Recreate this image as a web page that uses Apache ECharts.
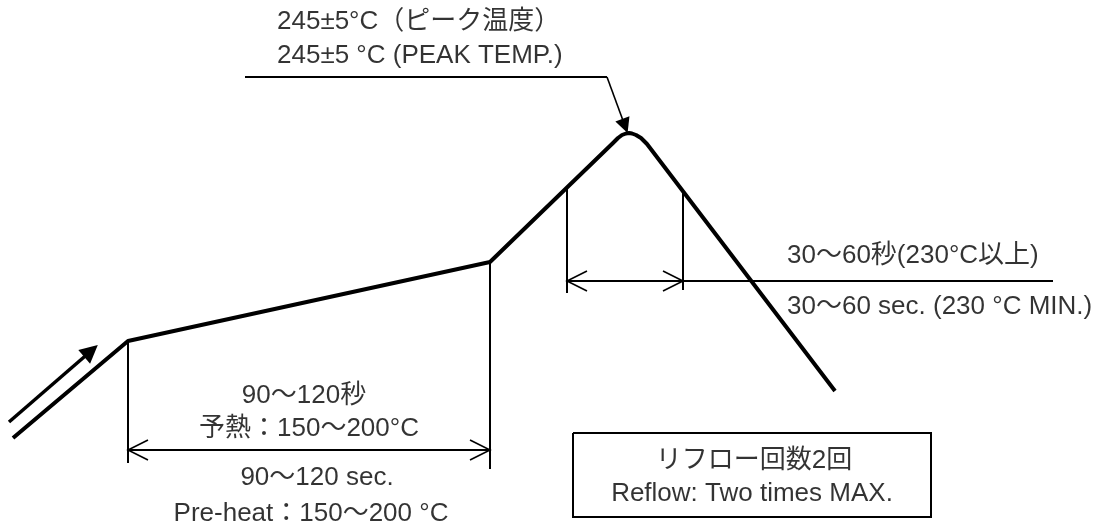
<!DOCTYPE html>
<html><head><meta charset="utf-8">
<script src="https://cdn.jsdelivr.net/npm/echarts@6/dist/echarts.min.js"></script>
<style>html,body{margin:0;padding:0;background:#fff}#c{width:1109px;height:532px}</style>
</head><body><div id="c"></div>
<script>
// Diagram units (time-like x, temperature-like y, drawn not to scale)
const profileX = [13, 128, 490, 613, 618, 622, 626, 629, 632, 636, 641, 647, 835];
const profileY = [438, 341, 262, 143, 138, 135, 133.5, 133, 133.5, 135, 138, 144, 391];
const inflowArrow = [[9, 422], [91, 351]];
const peakLeaderFlat = [[245, 77], [607, 77]];
const peakLeaderArrow = [[607, 77], [625, 126]];
const guideLines = [
  [[128, 343], [128, 463]],
  [[490, 262], [490, 469]],
  [[567, 189], [567, 293]],
  [[683, 192], [683, 290]]
];
const dimLines = [
  [[128, 450], [490, 450]],
  [[567, 281], [1053, 281]]
];
// open arrowheads: [tipX, tipY, direction]
const arrowTips = [[128, 450, 1], [490, 450, -1], [567, 281, 1], [683, 281, -1]];
const boxX = [573, 931];
const boxY = [433, 517];
const textsLeft = [
  [277, 22, '245±5°C（ピーク温度）'],
  [277, 56, '245±5 °C (PEAK TEMP.)'],
  [787, 256, '30～60秒(230°C以上)'],
  [787, 307, '30～60 sec. (230 °C MIN.)']
];
const textsCenter = [
  [304, 396, '90～120秒'],
  [309, 429, '予熱：150～200°C'],
  [317, 478, '90～120 sec.'],
  [311, 514, 'Pre-heat：150～200 °C'],
  [754, 461, 'リフロー回数2回'],
  [752, 494, 'Reflow: Two times MAX.']
];

const headSegs = [];
arrowTips.forEach(([x, y, d]) => {
  headSegs.push({coords: [[x + d * 20, y - 10], [x, y], [x + d * 20, y + 10]]});
});
const FONT = "'Liberation Sans', Arial, 'Noto Sans CJK JP', sans-serif";
const chart = echarts.init(document.getElementById('c'));
chart.setOption({
  animation: false,
  backgroundColor: '#fff',
  grid: {left: 0, right: 0, top: 0, bottom: 0},
  xAxis: {type: 'value', min: 0, max: 1109, show: false},
  yAxis: {type: 'value', min: 0, max: 532, inverse: true, show: false},
  series: [
    {type: 'line', data: profileX.map((x, i) => [x, profileY[i]]), symbol: 'none', smooth: false,
     lineStyle: {color: '#000', width: 4, join: 'round'}},
    {type: 'lines', coordinateSystem: 'cartesian2d', polyline: true,
     data: guideLines.map(c => ({coords: c})).concat(dimLines.map(c => ({coords: c}))),
     lineStyle: {color: '#000', width: 2, opacity: 1}},
    {type: 'lines', coordinateSystem: 'cartesian2d', polyline: true, data: headSegs,
     lineStyle: {color: '#000', width: 1.6, opacity: 1}},
    {type: 'lines', coordinateSystem: 'cartesian2d', polyline: true,
     data: [{coords: [[boxX[0], boxY[0]], [boxX[1], boxY[0]], [boxX[1], boxY[1]], [boxX[0], boxY[1]], [boxX[0], boxY[0]]]},
            {coords: peakLeaderFlat}],
     lineStyle: {color: '#000', width: 2, opacity: 1}},
    {type: 'lines', coordinateSystem: 'cartesian2d', polyline: false,
     symbol: ['none', 'triangle'], symbolSize: [16, 18],
     data: [{coords: inflowArrow}], lineStyle: {color: '#000', width: 3.5, opacity: 1}},
    {type: 'lines', coordinateSystem: 'cartesian2d', polyline: false,
     symbol: ['none', 'triangle'], symbolSize: [16, 15],
     data: [{coords: peakLeaderArrow}], lineStyle: {color: '#000', width: 1.6, opacity: 1}},
    {type: 'scatter', symbolSize: 0, data: textsLeft.map(t => ({value: [t[0], t[1]], name: t[2]})),
     label: {show: true, position: 'inside', align: 'left', verticalAlign: 'middle', formatter: p => p.name,
             color: '#000', fontSize: 26, fontFamily: FONT}},
    {type: 'scatter', symbolSize: 0, data: textsCenter.map(t => ({value: [t[0], t[1]], name: t[2]})),
     label: {show: true, position: 'inside', align: 'center', verticalAlign: 'middle', formatter: p => p.name,
             color: '#000', fontSize: 26, fontFamily: FONT}}
  ]
});
</script></body></html>
